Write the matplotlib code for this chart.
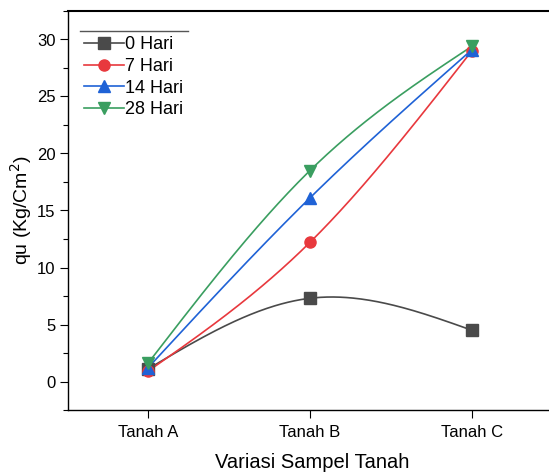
import numpy as np
import matplotlib
matplotlib.use("Agg")
import matplotlib.pyplot as plt
from matplotlib.lines import Line2D
from matplotlib.ticker import MultipleLocator

plt.rcParams['font.family'] = ['Liberation Sans', 'DejaVu Sans']

categories = ["Tanah A", "Tanah B", "Tanah C"]
series_names = ["0 Hari", "7 Hari", "14 Hari", "28 Hari"]
hari_0 = [1.1, 7.3, 4.5]
hari_7 = [0.9, 12.2, 29.0]
hari_14 = [1.2, 16.1, 29.1]
hari_28 = [1.6, 18.5, 29.4]

colors = ["#4a4a4a", "#e8383d", "#1f62d6", "#3a9e60"]
markers = ["s", "o", "^", "v"]


def natural_spline(x, y, n=200):
    x = np.asarray(x, float); y = np.asarray(y, float)
    k = len(x)
    h = np.diff(x)
    A = np.zeros((k, k)); b = np.zeros(k)
    A[0, 0] = 1; A[-1, -1] = 1
    for i in range(1, k - 1):
        A[i, i - 1] = h[i - 1]; A[i, i] = 2 * (h[i - 1] + h[i]); A[i, i + 1] = h[i]
        b[i] = 6 * ((y[i + 1] - y[i]) / h[i] - (y[i] - y[i - 1]) / h[i - 1])
    M = np.linalg.solve(A, b)
    xs = np.linspace(x[0], x[-1], n)
    ys = np.empty_like(xs)
    for j, xv in enumerate(xs):
        i = min(np.searchsorted(x, xv, side='right') - 1, k - 2)
        t1 = x[i + 1] - xv; t0 = xv - x[i]; hi = h[i]
        ys[j] = (M[i] * t1 ** 3 / (6 * hi) + M[i + 1] * t0 ** 3 / (6 * hi)
                 + (y[i] / hi - M[i] * hi / 6) * t1 + (y[i + 1] / hi - M[i + 1] * hi / 6) * t0)
    return xs, ys


W, H = 549, 473
fig = plt.figure(figsize=(W / 100, H / 100), dpi=100)
left, right, top, bottom = 68, 556, 11, 410
ax = fig.add_axes([left / W, 1 - bottom / H, (right - left) / W, (bottom - top) / H])

xpos = np.arange(len(categories))
all_series = [hari_0, hari_7, hari_14, hari_28]
handles = []
for vals, c, m, name in zip(all_series, colors, markers, series_names):
    xs, ys = natural_spline(xpos, vals)
    ax.plot(xs, ys, color=c, lw=1.2, zorder=2)
    ax.plot(xpos, vals, linestyle='none', marker=m, color=c, markersize=8, zorder=3)
    handles.append(Line2D([0], [0], color=c, lw=1.2, marker=m, markersize=8, label=name))

ax.set_xlim(-0.494, 2.52)
ax.set_ylim(-2.5, 32.5)
ax.set_xticks(xpos)
ax.set_xticklabels(categories, fontsize=12)
ax.yaxis.set_major_locator(MultipleLocator(5))
ax.yaxis.set_minor_locator(MultipleLocator(2.5))
ax.tick_params(axis='both', direction='out', length=6, width=0.8)
ax.tick_params(axis='y', labelsize=12, pad=3)
ax.tick_params(axis='y', which='minor', direction='out', length=3.5, width=0.8)
ax.tick_params(axis='x', pad=5)
for s in ['left', 'bottom']:
    ax.spines[s].set_linewidth(1.0)
ax.spines['top'].set_linewidth(1.5)
ax.spines['right'].set_visible(False)

ax.set_xlabel("Variasi Sampel Tanah", fontsize=14.5, labelpad=9)
ax.set_ylabel("qu (Kg/Cm$^2$)", fontsize=14, labelpad=2)

leg = ax.legend(handles=handles, loc='upper left', bbox_to_anchor=(0.018, 0.955),
                frameon=False, fontsize=13, handlelength=2.2, handletextpad=0.05,
                labelspacing=0.26, borderaxespad=0.0)

fig.add_artist(Line2D([80 / W, 188 / W], [1 - 31 / H, 1 - 31 / H], color="#555555", lw=1.0))

fig.savefig("out.png", dpi=100)
